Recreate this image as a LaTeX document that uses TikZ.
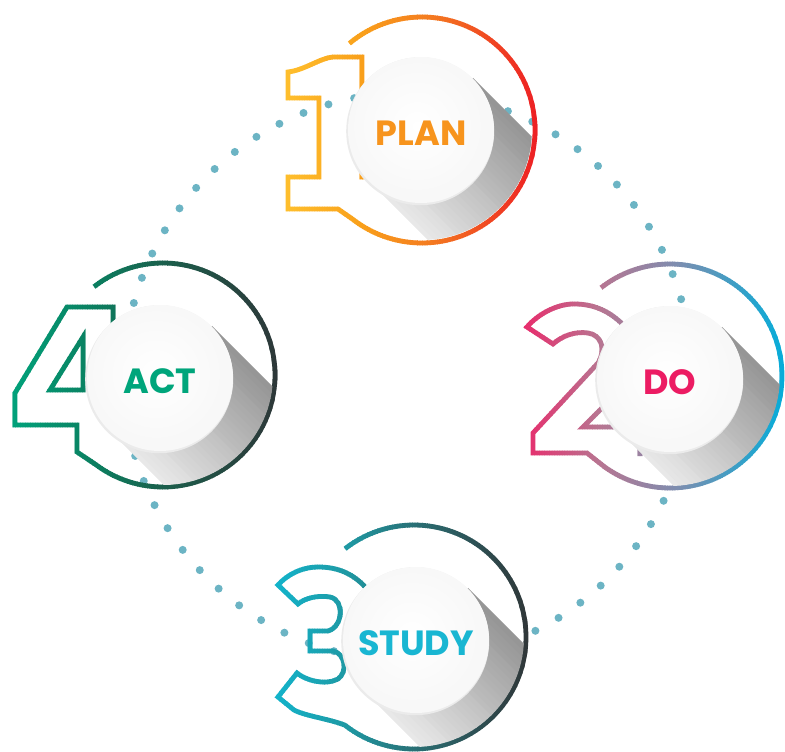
\documentclass[tikz,border=0pt]{standalone}
\usepackage{fontspec}
\newfontfamily\labfont{Poppins}
\definecolor{dotc}{HTML}{6CB4C4}
\definecolor{pA}{HTML}{FFC12E}\definecolor{pB}{HTML}{F9A11B}\definecolor{pC}{HTML}{F47C20}\definecolor{pD}{HTML}{ED1C24}
\definecolor{dA}{HTML}{EA2A6B}\definecolor{dB}{HTML}{B87591}\definecolor{dC}{HTML}{7C8EB0}\definecolor{dD}{HTML}{00AEDB}
\definecolor{sA}{HTML}{12B5CD}\definecolor{sB}{HTML}{1E9AA5}\definecolor{sC}{HTML}{2A6D72}\definecolor{sD}{HTML}{303537}
\definecolor{aA}{HTML}{00A47C}\definecolor{aB}{HTML}{0B7F60}\definecolor{aC}{HTML}{1B5F4C}\definecolor{aD}{HTML}{2E3638}
\definecolor{planc}{HTML}{F7941D}\definecolor{doc}{HTML}{EC1C63}\definecolor{studyc}{HTML}{19B6D2}\definecolor{actc}{HTML}{00A57B}
\definecolor{discc}{HTML}{F8F8F8}
\colorlet{strk}{black}
\tikzset{
  gline/.style={draw=strk, line width=4.8, line join=miter},
  lab/.style={font=\labfont\bfseries\fontsize{35}{35}\selectfont, inner sep=0pt},
}
% gradient stroke by vertical strips
\newcommand\gradpaths[2]{%
  \foreach \xa/\xb/\ca/\cb in {#2}{%
    \pgfmathtruncatemacro\nn{max(1,round((\xb-\xa)/2.5))}%
    \foreach \ii in {1,...,\nn}{%
      \pgfmathsetmacro\xl{\xa+(\xb-\xa)*(\ii-1)/\nn-0.3}%
      \pgfmathsetmacro\xr{\xa+(\xb-\xa)*\ii/\nn+0.3}%
      \pgfmathtruncatemacro\pcg{100-100*(\ii-0.5)/\nn}%
      \begin{scope}
        \clip (\xl,-20) rectangle (\xr,780);
        \colorlet{strk}{\ca!\pcg!\cb}%
        #1%
      \end{scope}
    }%
  }%
}
\newcommand\planpaths{%
  \draw[gline] (422,130) ++(-130:113) arc[start angle=-130,end angle=128,radius=113]
    -- (338,209) -- (288,209) -- (288,177) -- (319,177) -- (319,98) -- (288,98) -- (288,72)
    .. controls (305,70) and (320,58) .. (333,57) -- (362,57) -- (362,177) -- (392,177);
}
\newcommand\dopaths{%
  \draw[gline] (670,376) ++(-128:112) arc[start angle=-128,end angle=125.5,radius=112]
    -- (587,453) -- (533,453) -- (533,433) -- (598,363)
    .. controls (606,350) and (602,335) .. (588,333)
    .. controls (575,331) and (562,336) .. (553,344) -- (527,327)
    .. controls (540,312) and (560,303) .. (577,304)
    .. controls (600,305) and (615,315) .. (630,332);
  \draw[gline] (618,392) -- (583,427) -- (640,427) -- (640,456);
}
\newcommand\studypaths{%
  \draw[gline] (414,637) ++(-128:112) arc[start angle=-128,end angle=128,radius=112]
    .. controls (330,719) and (305,716) .. (294,710) -- (278,697) -- (297,673)
    .. controls (305,680) and (325,686) .. (338,679)
    .. controls (348,672) and (345,653) .. (333,651) -- (310,651) -- (310,631) -- (328,631)
    .. controls (343,627) and (345,600) .. (330,597)
    .. controls (318,595) and (305,598) .. (298,604) -- (278,585)
    .. controls (290,572) and (305,567) .. (318,567)
    .. controls (340,567) and (355,575) .. (368,590);
}
\newcommand\actpaths{%
  \draw[gline] (163,375) ++(-128:112) arc[start angle=-128,end angle=127,radius=112]
    -- (77,452) -- (77,425) -- (15,425) -- (15,393) -- (67,307) -- (113,307) -- (113,345);
  \draw[gline] (50,390) -- (83,337) -- (83,390) -- cycle;
}
% long shadow: #1,#2 circle centre, #3,#4 ring centre
\newcommand\longshadow[4]{%
  \begin{scope}
    \clip (#3,#4) circle (110);
    \foreach \j in {0,...,29}{%
      \pgfmathsetmacro\na{-73+146*\j/30}%
      \pgfmathsetmacro\nb{-73+146*(\j+1)/30+0.6}%
      \pgfmathtruncatemacro\pcs{9+33*(\j+0.5)/30}%
      \fill[black!\pcs] ({#1+0.7071*\na},{#2-0.7071*\na}) -- ({#1+0.7071*(240+\na)},{#2+0.7071*(240-\na)})
        -- ({#1+0.7071*(240+\nb)},{#2+0.7071*(240-\nb)}) -- ({#1+0.7071*\nb},{#2-0.7071*\nb}) -- cycle;
    }%
  \end{scope}
}
\newcommand\whitedisc[2]{%
  \fill[black!8] (#1-0.8,#2+1.2) circle (74);
  \fill[discc] (#1,#2) circle (73);
  \fill[white] (#1-8,#2-8) circle (60);
  \shade[inner color=white, outer color=discc] (#1-4,#2-4) circle (68);
}
\begin{document}
\begin{tikzpicture}[x=1pt,y=-1pt]
\useasboundingbox (0,0) rectangle (785,752);
% dotted circle
\foreach \s/\st/\n in {95.6/5.33/14, 10.55/5.35/12, 190.8/5.34/13, 291.3/5.357/9}{
  \foreach \k in {0,...,\n}{
    \fill[dotc] ({408+284*cos(\s+\k*\st)},{377-284*sin(\s+\k*\st)}) circle (4);
  }
}
% rings and digits
\gradpaths{\planpaths}{282/360/pA/pB,360/430/pB/pC,430/542/pC/pD}
\gradpaths{\dopaths}{522/600/dA/dB,600/680/dB/dC,680/790/dC/dD}
\gradpaths{\studypaths}{272/345/sA/sB,345/420/sB/sC,420/532/sC/sD}
\gradpaths{\actpaths}{8/95/aA/aB,95/165/aB/aC,165/282/aC/aD}
% shadows
\longshadow{421}{130}{422}{130}
\longshadow{670}{379}{670}{376}
\longshadow{416}{640}{414}{637}
\longshadow{160}{378}{163}{375}
% discs
\whitedisc{421}{130}
\whitedisc{670}{379}
\whitedisc{416}{640}
\whitedisc{160}{378}
% labels
\node[lab, text=planc] (plan) at (421,133) {PLAN};
\node[lab, text=doc] (do) at (670,382) {DO};
\node[lab, text=studyc] (study) at (416,643) {STUDY};
\node[lab, text=actc] (act) at (160,381) {ACT};
\end{tikzpicture}
\end{document}
